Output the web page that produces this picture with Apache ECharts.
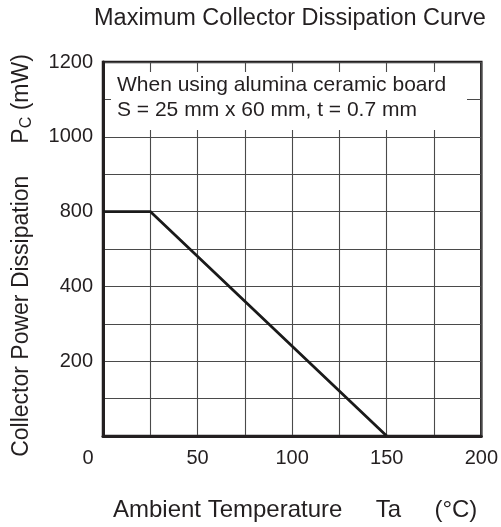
<!DOCTYPE html>
<html>
<head>
<meta charset="utf-8">
<script src="https://cdn.jsdelivr.net/npm/echarts@6/dist/echarts.min.js"></script>
<style>html,body{margin:0;padding:0;background:#fff}#c{width:501px;height:527px}</style>
</head>
<body>
<div id="c"></div>
<script>
// ---- data ----
const titleText = 'Maximum Collector Dissipation Curve';
const xName = 'Ambient Temperature     Ta     (°C)';
const yNameMain = 'Collector Power Dissipation     P';
const yNameSub = 'C';
const yNameUnit = ' (mW)';
const noteLines = ['When using alumina ceramic board', 'S = 25 mm x 60 mm, t = 0.7 mm'];
// y tick labels, bottom to top (as printed on the chart, equally spaced)
const yTickLabels = ['0', '200', '400', '800', '1000', '1200'];
// x axis
const xMin = 0, xMax = 200, xMinorStep = 25, xLabelStep = 50;
// curve points: [Ta (°C), Pc (mW)]
const curveTa = [0, 25, 150];
const curvePc = ['800', '800', '0'];

// ---- build category y axis (labelled ticks with an unlabelled minor line between) ----
const yCats = [];
yTickLabels.forEach((l, i) => {
  yCats.push(l);
  if (i < yTickLabels.length - 1) yCats.push(l + '~');
});
const curveData = curveTa.map((t, i) => [t, curvePc[i]]);

const FONT = 'Liberation Sans, Arial, Helvetica, sans-serif';
const TXT = '#231f20';
const LINE = '#231f20';

const chart = echarts.init(document.getElementById('c'), null, {renderer: 'canvas'});
chart.setOption({
  animation: false,
  backgroundColor: '#fff',
  title: {
    text: titleText,
    left: 94, top: 7, padding: 0,
    textStyle: {fontFamily: FONT, fontSize: 23.5, fontWeight: 'normal', color: TXT}
  },
  grid: {
    left: 103, right: 19, top: 62, bottom: 89,
    show: true, borderColor: LINE, borderWidth: 2.5, backgroundColor: 'transparent'
  },
  xAxis: {
    type: 'value', min: xMin, max: xMax, interval: xMinorStep,
    name: xName, nameLocation: 'middle', nameGap: 62,
    nameTextStyle: {fontFamily: FONT, fontSize: 24, color: TXT, padding: [0, 0, 0, 6]},
    axisLine: {show: true, lineStyle: {color: LINE, width: 3}},
    axisTick: {show: false},
    splitLine: {show: true, lineStyle: {color: '#4a4a4a', width: 1.1}},
    axisLabel: {
      margin: 12, fontFamily: FONT, fontSize: 20, color: TXT,
      formatter: v => v === 0 ? '{o|0}' : (v % xLabelStep === 0 ? String(v) : ''),
      rich: {o: {fontFamily: FONT, fontSize: 20, color: TXT, padding: [0, 30, 0, 0]}}
    }
  },
  yAxis: {
    type: 'category', data: yCats, boundaryGap: false,
    name: '{n|' + yNameMain + '}{s|' + yNameSub + '}{n|' + yNameUnit + '}',
    nameLocation: 'middle', nameGap: 68,
    nameTextStyle: {
      fontFamily: FONT, fontSize: 23, color: TXT, padding: [0, 13, 0, 0],
      rich: {
        n: {fontFamily: FONT, fontSize: 23, color: TXT},
        s: {fontFamily: FONT, fontSize: 16, color: TXT, padding: [10, 0, 0, 0]}
      }
    },
    axisLine: {show: true, lineStyle: {color: LINE, width: 3}},
    axisTick: {show: false},
    splitLine: {show: true, interval: 0, lineStyle: {color: '#4a4a4a', width: 1.1}},
    axisLabel: {
      interval: 0, margin: 10, fontFamily: FONT, fontSize: 20, color: TXT,
      formatter: (v, i) => (i % 2 === 0 && i > 0) ? v : ''
    }
  },
  graphic: {
    elements: [
      {type: 'rect', z: 100, shape: {x: 111, y: 72, width: 356, height: 58}, style: {fill: '#ffffff'}},
      {type: 'text', z: 101, x: 117, y: 73, style: {
        text: noteLines.join('\n'), font: '21px ' + FONT, fill: TXT,
        lineHeight: 25, verticalAlign: 'top', align: 'left'
      }}
    ]
  },
  series: [{
    type: 'line', data: curveData, symbol: 'none',
    lineStyle: {color: '#1a1a1a', width: 2.8}, z: 5
  }]
});
</script>
</body>
</html>
